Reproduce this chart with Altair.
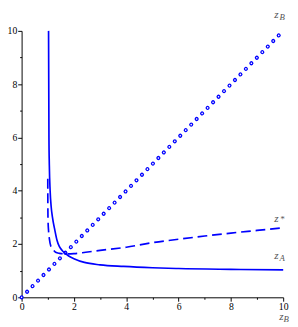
import altair as alt
import pandas as pd

# solid curve z_A
zA_x = [1.03, 1.045, 1.06, 1.09, 1.13, 1.18, 1.27, 1.35, 1.44, 1.55, 1.66, 1.8, 2.0, 2.4, 3.0, 3.9, 5.0, 6.0, 8.0, 10.0]
zA_y = [10.0, 6.0, 4.95, 4.0, 3.4, 3.0, 2.52, 2.15, 1.91, 1.76, 1.66, 1.55, 1.45, 1.31, 1.22, 1.16, 1.11, 1.08, 1.05, 1.03]
# dashed curve z_*
zs_x = [1.0, 1.003, 1.01, 1.03, 1.06, 1.12, 1.2, 1.3, 1.45, 1.65, 2.0, 2.45, 3.0, 4.0, 5.0, 6.0, 7.0, 8.0, 9.0, 10.0]
zs_y = [4.45, 3.5, 2.9, 2.5, 2.2, 1.91, 1.8, 1.69, 1.65, 1.63, 1.64, 1.69, 1.76, 1.88, 2.05, 2.18, 2.3, 2.41, 2.51, 2.61]
# dotted line z_B
zB_x = [0, 10]
zB_y = [0, 10]

tick_values = [0, 1, 2, 3, 4, 5, 6, 7, 8, 9, 10]

# curve / axis labels: main letter and its subscript (data coordinates)
lab_main = ["z", "z", "z", "z"]
lab_x = [9.74, 9.74, 9.74, 9.93]
lab_y = [10.58, 2.94, 1.55, -0.75]
lab_sub = ["B", "*", "A", "B"]
sub_x = [9.96, 9.96, 9.96, 10.11]
sub_y = [10.51, 2.92, 1.48, -0.8]

dfA = pd.DataFrame({"x": zA_x, "y": zA_y})
dfS = pd.DataFrame({"x": zs_x, "y": zs_y})
dfB = pd.DataFrame({"x": zB_x, "y": zB_y})
dfL = pd.DataFrame({"x": lab_x, "y": lab_y, "t": lab_main})
dfSub = pd.DataFrame({"x": sub_x, "y": sub_y, "t": lab_sub})

xs = alt.Scale(domain=[0, 10], nice=False, zero=False)
ys = alt.Scale(domain=[0, 10], nice=False, zero=False)


def axis(pad):
    return alt.Axis(
        values=tick_values,
        title=None,
        grid=False,
        tickSize={"condition": {"test": "datum.value % 2 == 1", "value": 2}, "value": 4},
        labelExpr="datum.value % 2 == 1 ? '' : datum.label",
        labelFont="Liberation Serif",
        labelFontSize=10,
        labelColor="black",
        labelPadding=pad,
        labelFlush=False,
        labelOverlap=False,
        labelBound=False,
        domainColor="black",
        domainWidth=1,
        tickColor="black",
        tickWidth=1,
    )


X = alt.X("x:Q", scale=xs, axis=axis(1))
Y = alt.Y("y:Q", scale=ys, axis=axis(1))

BLUE = "#0000ff"

dot_outer = alt.Chart(dfB).mark_line(
    color=BLUE, strokeWidth=4.2, strokeDash=[0.01, 8.02], strokeCap="round"
).encode(x=X, y=Y)
dot_inner = alt.Chart(dfB).mark_line(
    color="white", strokeWidth=1.6, strokeDash=[0.01, 8.02], strokeCap="round"
).encode(x=X, y=Y)

dashed = alt.Chart(dfS).mark_line(
    color=BLUE, strokeWidth=1.7, strokeDash=[10, 5], interpolate="monotone"
).encode(x=X, y=Y)

solid = alt.Chart(dfA).mark_line(
    color=BLUE, strokeWidth=1.7, interpolate="monotone"
).encode(x=X, y=Y)

lab_main_layer = alt.Chart(dfL).mark_text(
    font="Liberation Serif", fontStyle="italic", fontSize=11.5, color="#555555",
    align="center", baseline="middle"
).encode(x=X, y=Y, text="t:N")

lab_sub_layer = alt.Chart(dfSub).mark_text(
    font="Liberation Serif", fontStyle="italic", fontSize=9, color="#555555",
    align="center", baseline="middle"
).encode(x=X, y=Y, text="t:N")

chart = alt.layer(
    dot_outer, dot_inner, dashed, solid, lab_main_layer, lab_sub_layer
).properties(
    width=269,
    height=274,
    autosize=alt.AutoSizeParams(type="none"),
    padding={"left": 14, "top": 19, "right": 7, "bottom": 26},
    background="white",
).configure_view(stroke=None)

chart.save("out.html", embed_options={"renderer": "svg", "actions": False})
